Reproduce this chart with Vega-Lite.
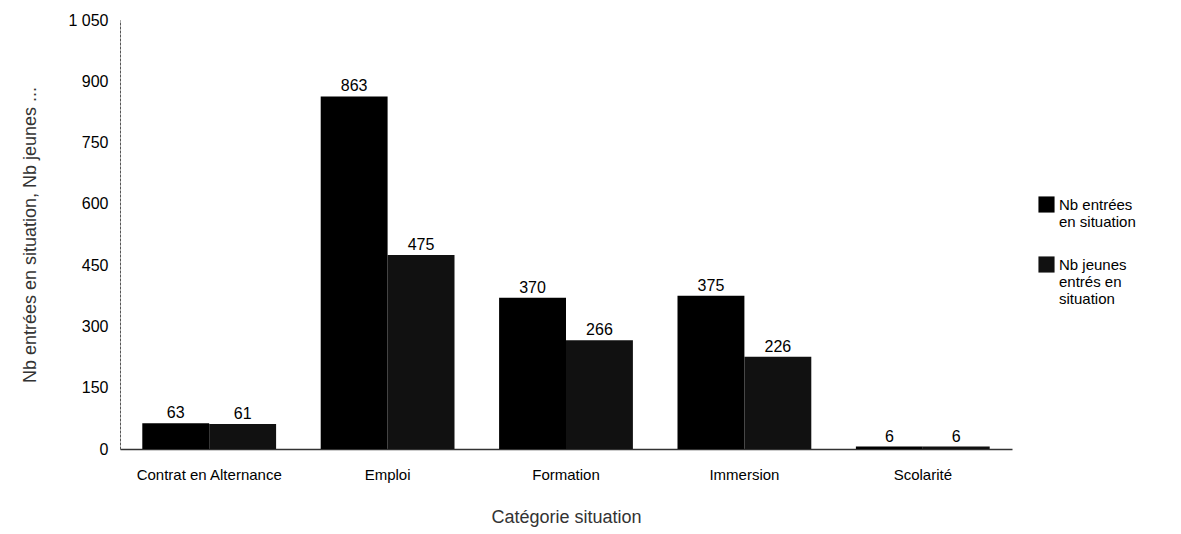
{
  "$schema": "https://vega.github.io/schema/vega-lite/v6.json",
  "width": 892,
  "height": 429,
  "autosize": {"type": "none"},
  "padding": {"left": 120, "top": 20, "right": 169, "bottom": 85},
  "background": "white",
  "data": {
    "values": [
      {"cat": "Contrat en Alternance", "serie": "Nb entrées en situation", "v": 63},
      {"cat": "Contrat en Alternance", "serie": "Nb jeunes entrés en situation", "v": 61},
      {"cat": "Emploi", "serie": "Nb entrées en situation", "v": 863},
      {"cat": "Emploi", "serie": "Nb jeunes entrés en situation", "v": 475},
      {"cat": "Formation", "serie": "Nb entrées en situation", "v": 370},
      {"cat": "Formation", "serie": "Nb jeunes entrés en situation", "v": 266},
      {"cat": "Immersion", "serie": "Nb entrées en situation", "v": 375},
      {"cat": "Immersion", "serie": "Nb jeunes entrés en situation", "v": 226},
      {"cat": "Scolarité", "serie": "Nb entrées en situation", "v": 6},
      {"cat": "Scolarité", "serie": "Nb jeunes entrés en situation", "v": 6}
    ]
  },
  "encoding": {
    "x": {
      "field": "cat", "type": "nominal", "sort": null,
      "scale": {"paddingInner": 0.25, "paddingOuter": 0.125},
      "axis": {
        "title": "Catégorie situation", "labelAngle": 0,
        "labelFont": "Liberation Sans", "labelFontSize": 15, "labelColor": "#000",
        "titleFont": "Liberation Sans", "titleFontSize": 18, "titleFontWeight": "normal", "titleColor": "#333",
        "titlePadding": 26, "ticks": false, "labelPadding": 18,
        "domainColor": "#333", "domainWidth": 1.5
      }
    },
    "xOffset": {"field": "serie", "type": "nominal"},
    "y": {
      "field": "v", "type": "quantitative",
      "scale": {"domain": [0, 1050]},
      "axis": {
        "values": [0, 150, 300, 450, 600, 750, 900, 1050],
        "labelExpr": "replace(format(datum.value, ','), ',', ' ')",
        "title": "Nb entrées en situation, Nb jeunes ...",
        "grid": false, "ticks": false, "labelPadding": 12,
        "labelFont": "Liberation Sans", "labelFontSize": 16, "labelColor": "#000",
        "titleFont": "Liberation Sans", "titleFontSize": 18, "titleFontWeight": "normal", "titleColor": "#333",
        "titlePadding": 28, "domainColor": "#555", "domainDash": [3, 1]
      }
    }
  },
  "layer": [
    {
      "mark": {"type": "bar"},
      "encoding": {
        "color": {
          "field": "serie", "type": "nominal",
          "scale": {"range": ["#000000", "#111111"]},
          "legend": {
            "title": null, "orient": "none", "legendX": 918, "legendY": 176,
            "symbolType": "square", "symbolSize": 260, "symbolStrokeWidth": 0,
            "labelFont": "Liberation Sans", "labelFontSize": 15, "labelColor": "#000",
            "rowPadding": 26, "labelLimit": 200,
            "labelExpr": "datum.label == 'Nb entrées en situation' ? ['Nb entrées', 'en situation'] : ['Nb jeunes', 'entrés en', 'situation']"
          }
        }
      }
    },
    {
      "mark": {"type": "text", "dy": -10, "font": "Liberation Sans", "fontSize": 16, "color": "#000"},
      "encoding": {"text": {"field": "v", "type": "quantitative"}}
    }
  ],
  "config": {"view": {"stroke": null}}
}
